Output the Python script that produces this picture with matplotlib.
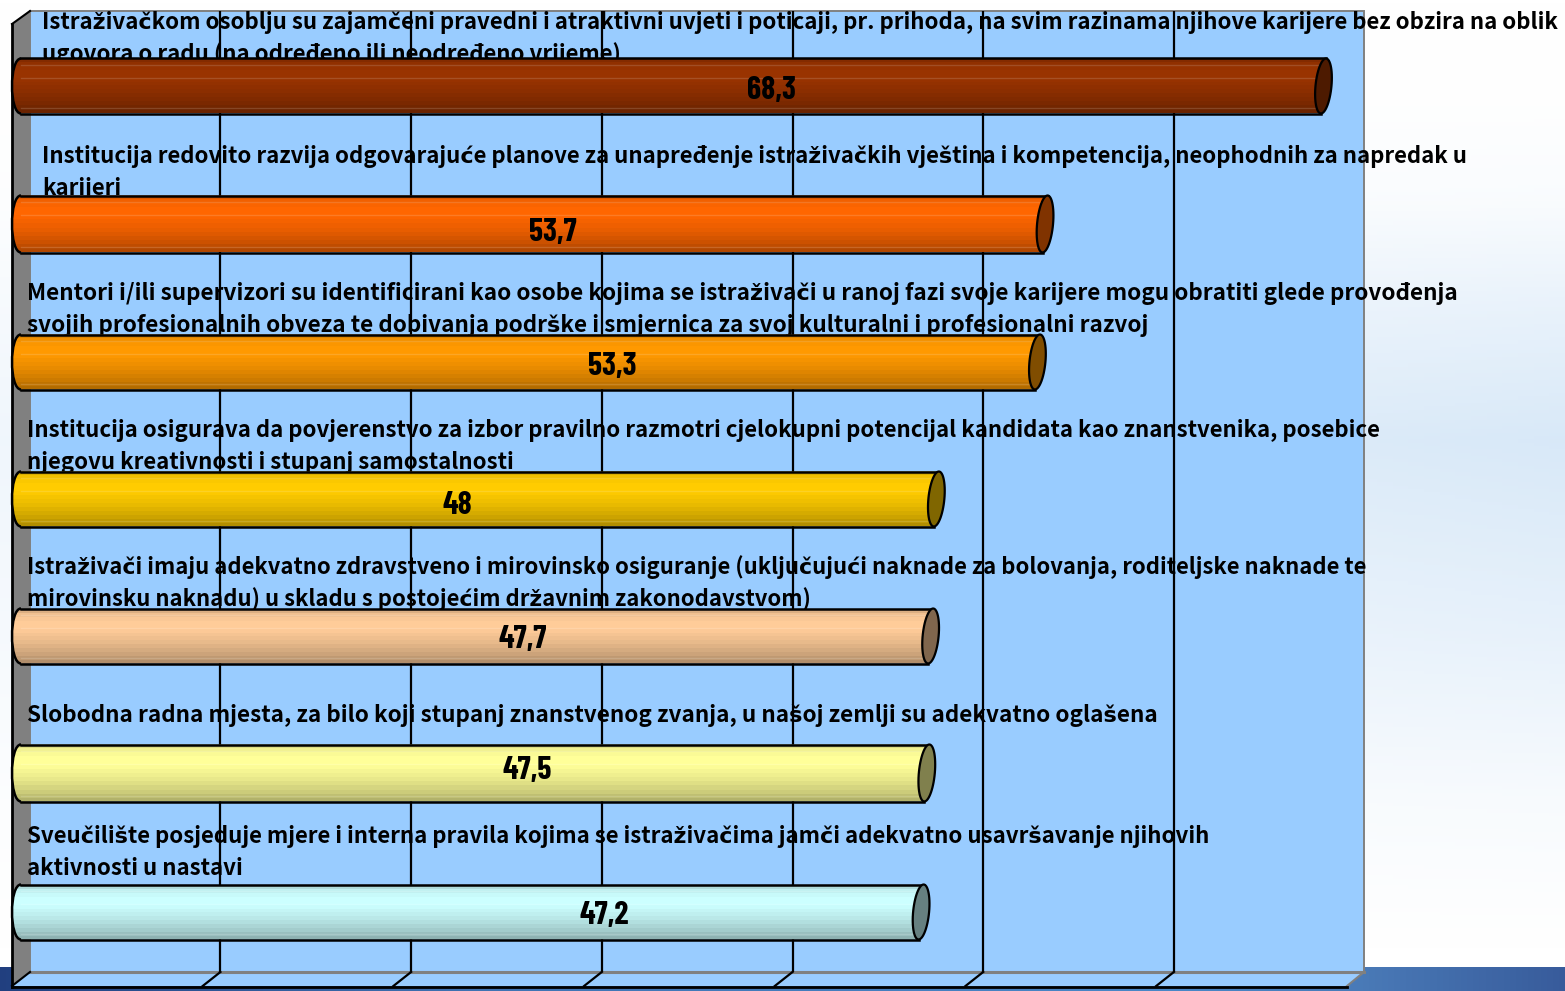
import numpy as np
import matplotlib
matplotlib.use("Agg")
import matplotlib.pyplot as plt
from matplotlib.patches import Polygon, Rectangle, PathPatch
from matplotlib.path import Path
from matplotlib.colors import to_rgb

labels = [
    "Istraživačkom osoblju su zajamčeni pravedni i atraktivni uvjeti i poticaji, pr. prihoda, na svim razinama njihove karijere bez obzira na oblik\nugovora o radu (na određeno ili neodređeno vrijeme)",
    "Institucija redovito razvija odgovarajuće planove za unapređenje istraživačkih vještina i kompetencija, neophodnih za napredak u\nkarijeri",
    "Mentori i/ili supervizori su identificirani kao osobe kojima se istraživači u ranoj fazi svoje karijere mogu obratiti glede provođenja\nsvojih profesionalnih obveza te dobivanja podrške i smjernica za svoj kulturalni i profesionalni razvoj",
    "Institucija osigurava da povjerenstvo za izbor pravilno razmotri cjelokupni potencijal kandidata kao znanstvenika, posebice\nnjegovu kreativnosti i stupanj samostalnosti",
    "Istraživači imaju adekvatno zdravstveno i mirovinsko osiguranje (uključujući naknade za bolovanja, roditeljske naknade te\nmirovinsku naknadu) u skladu s postojećim državnim zakonodavstvom)",
    "Slobodna radna mjesta, za bilo koji stupanj znanstvenog zvanja, u našoj zemlji su adekvatno oglašena",
    "Sveučilište posjeduje mjere i interna pravila kojima se istraživačima jamči adekvatno usavršavanje njihovih\naktivnosti u nastavi",
]
values = [68.3, 53.7, 53.3, 48, 47.7, 47.5, 47.2]
value_text = ["68,3", "53,7", "53,3", "48", "47,7", "47,5", "47,2"]
bar_colors = ["#993300", "#FF6600", "#FF9900", "#FFCC00", "#FFCC99", "#FFFF99", "#CCFFFF"]
ticks = [0, 10, 20, 30, 40, 50, 60, 70]

W, H = 1565, 991
PX_PER_UNIT = 19.07
X0_PX = 21.0
PX_PER_CAT = 137.7
Y0_PX = 86.0

label_x_px = [42, 42, 27, 27, 27, 27, 27]
label_y_px = [22, 156.5, 293.5, 430, 567, 715.5, 836.5]
label_size = [16.04, 16.0, 16.2, 16.0, 15.85, 16.18, 16.04]
value_x_px = [771, 553, 612, 457, 523, 527, 604]
value_y_px = [90, 233, 366, 506, 639, 770, 915]
bar_centers_px = [86, 224, 362, 499, 636, 773, 912]
bar_half_px = [27.5, 28.5, 27.5, 27.5, 27.5, 28.5, 27.5]

fig = plt.figure(figsize=(W / 100, H / 100), dpi=100)
bg = fig.add_axes([0, 0, 1, 1], zorder=0)
bg.set_axis_off()

# page background: white with a soft blue tint peaking at mid-height
rows_y = np.linspace(0, H, 300)
tint_y = np.interp(rows_y, [0, 100, 200, 300, 440, 640, 800, 950, H], [0, 0.02, 0.15, 0.55, 1, 0.6, 0.2, 0, 0])
cols_x = np.linspace(0, 1, 100)
tint = tint_y[:, None] * (0.4 + 0.62 * cols_x)[None, :]
page = np.ones((300, 100, 3))
page[..., 0] = 1 - 0.149 * tint
page[..., 1] = 1 - 0.086 * tint
page[..., 2] = 1 - 0.027 * tint
bg.imshow(page, extent=[0, W, H, 0], aspect="auto", zorder=0)
# blue footer band
stops = np.array([[0.13, 0.25, 0.50], [0.25, 0.45, 0.70], [0.29, 0.53, 0.78], [0.29, 0.48, 0.72], [0.22, 0.36, 0.61]])
xs = np.linspace(0, 1, 256)
band = np.stack([np.interp(xs, [0, 0.3, 0.75, 0.87, 1], stops[:, c]) for c in range(3)], axis=-1)[None, :, :]
bg.imshow(band, extent=[0, W, H, 967], aspect="auto", zorder=1)
bg.set_xlim(0, W); bg.set_ylim(H, 0)

# chart box
wall = "#99CCFF"; edge = "#808080"
bg.add_patch(Rectangle((30, 11), 1334, 961, fc=wall, ec=edge, lw=1.4, zorder=2))
bg.add_patch(Polygon([[12, 24], [30, 11], [30, 972], [12, 986]], fc=edge, lw=0, zorder=2))
bg.add_patch(Polygon([[12, 986], [30, 972], [1364, 972], [1347, 986]], fc=wall, lw=0, zorder=2))
bg.plot([30, 1364], [972, 972], color=edge, lw=2.2, zorder=3)
bg.plot([1347, 1364], [986, 972], color=edge, lw=1.5, zorder=3)
bg.plot([12, 30], [986, 972], color="black", lw=1.5, zorder=3)
bg.plot([12, 30], [24, 11], color="black", lw=1.5, zorder=3)
bg.plot([12, 12], [24, 987], color="black", lw=2, zorder=4)
bg.plot([12, 1347], [986.5, 986.5], color="black", lw=2, zorder=4)

# data axes: value on x, category index on y (inverted)
ax = fig.add_axes([0, 0, 1, 1], zorder=1)
ax.patch.set_alpha(0)
ax.set_axis_off()
XLIM = (-X0_PX / PX_PER_UNIT, (W - X0_PX) / PX_PER_UNIT)
YLIM = ((H - Y0_PX) / PX_PER_CAT, -Y0_PX / PX_PER_CAT)
ax.set_xlim(*XLIM)
ax.set_ylim(*YLIM)

dx_back = 8.7 / PX_PER_UNIT
dx_front = -9 / PX_PER_UNIT
ytop = (11 - Y0_PX) / PX_PER_CAT
ybot = (972 - Y0_PX) / PX_PER_CAT
yfr = (986 - Y0_PX) / PX_PER_CAT
for t in ticks[1:-1]:
    bx = t + dx_back
    fx = t + dx_front
    ax.plot([bx, bx], [ytop, ybot], color="black", lw=1.6, zorder=6, solid_capstyle="butt")
    ax.plot([bx, fx], [ybot, yfr], color="black", lw=1.6, zorder=6)

LABEL_FONT = ["Noto Sans CJK JP", "DejaVu Sans"]
VALUE_FONT = ["Barlow Condensed", "Liberation Sans", "DejaVu Sans"]

for i, lab in enumerate(labels):
    for j, line in enumerate(lab.split("\n")):
        ypx = label_y_px[i] + j * 32
        ax.text((label_x_px[i] - X0_PX) / PX_PER_UNIT, (ypx - Y0_PX) / PX_PER_CAT, line,
                family=LABEL_FONT, weight="bold", fontsize=label_size[i], ha="left", va="center",
                color="black", zorder=5)

# cylinder shading profile, top to bottom, as discrete bands
prof_y = np.array([0.00, 0.08, 0.20, 0.35, 0.60, 0.85, 1.00])
prof_f = np.array([0.86, 0.95, 1.00, 1.00, 0.92, 0.80, 0.70])
rows = np.interp(np.linspace(0, 1, 14), prof_y, prof_f)
highlights = [0.11, 0.35, 0.90]

for i, v in enumerate(values):
    col = np.array(to_rgb(bar_colors[i]))
    half = bar_half_px[i] / PX_PER_CAT
    c = (bar_centers_px[i] - Y0_PX) / PX_PER_CAT
    y0, y1 = c - half, c + half
    rx = 8.0 / PX_PER_UNIT
    skew = 2.5 / PX_PER_UNIT
    lx = -rx * 1.5
    verts = [(0, y0), (v + skew, y0), (v - skew, y1), (0, y1),
             (lx, y1), (lx, y0), (0, y0), (0, y0)]
    codes = [Path.MOVETO, Path.LINETO, Path.LINETO, Path.LINETO,
             Path.CURVE4, Path.CURVE4, Path.CURVE4, Path.CLOSEPOLY]
    body = PathPatch(Path(verts, codes), fc="none", ec="none", zorder=7)
    ax.add_patch(body)
    img = (rows[:, None, None] * col[None, None, :]).clip(0, 1)
    im = ax.imshow(img, extent=[lx, v + rx, y1, y0], aspect="auto",
                   interpolation="nearest", zorder=7)
    im.set_clip_path(body)
    for h in highlights:
        yh = y0 + h * (y1 - y0)
        ax.plot([0, v], [yh, yh], color="white", alpha=0.15, lw=1, zorder=7.5)
    ax.plot([0, v + skew], [y0, y0], color="black", lw=1.8, zorder=8)
    ax.plot([0, v - skew], [y1, y1], color="black", lw=1.8, zorder=8)
    ax.add_patch(PathPatch(Path([(0, y0), (lx, y0), (lx, y1), (0, y1)],
                                [Path.MOVETO, Path.CURVE4, Path.CURVE4, Path.CURVE4]),
                           fc="none", ec="black", lw=1.8, zorder=8))
    # end cap: slightly leaning ellipse
    th = np.linspace(0, 2 * np.pi, 60)
    cap = np.column_stack([v + rx * np.cos(th) - skew * np.sin(th), c + half * np.sin(th)])
    ax.add_patch(Polygon(cap, closed=True, fc=col * 0.5, ec="black", lw=1.6, zorder=9))
    ax.text((value_x_px[i] - X0_PX) / PX_PER_UNIT, (value_y_px[i] - Y0_PX) / PX_PER_CAT, value_text[i],
            family=VALUE_FONT, weight="bold", fontsize=23, ha="center", va="center",
            color="black", zorder=10)

ax.set_xlim(*XLIM)
ax.set_ylim(*YLIM)
fig.savefig("out.png", dpi=100)
